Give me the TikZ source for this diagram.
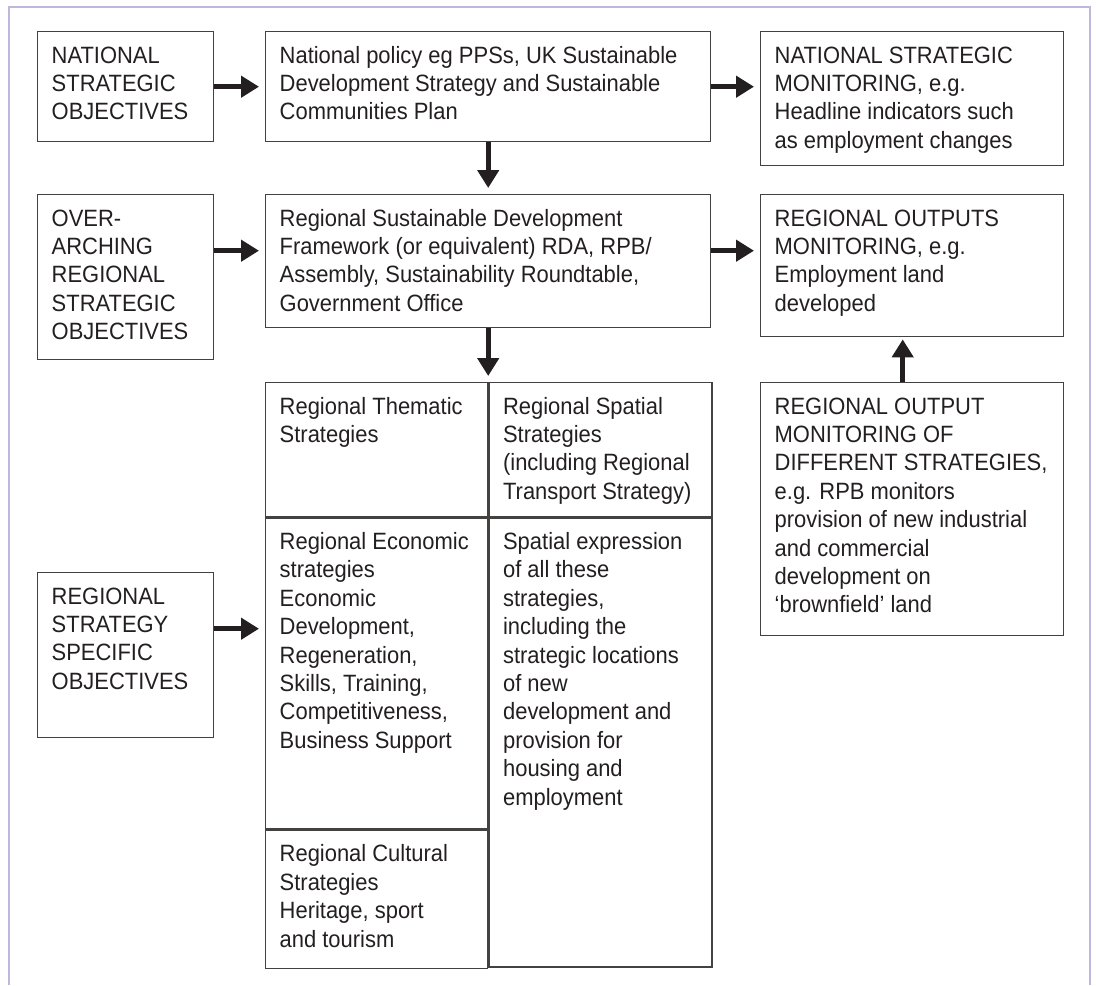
\documentclass[tikz,border=0pt]{standalone}
\usepackage{fontspec}
\setmainfont{Liberation Sans}[FakeStretch=0.93]
\usetikzlibrary{arrows.meta, positioning}
\definecolor{ink}{HTML}{231F20}
\definecolor{framelav}{RGB}{188,184,222}
\newcommand{\cellbox}[3]{\parbox[t][#2][t]{#1}{\begin{tabular}[t]{@{}l@{}}#3\end{tabular}}}
\tikzset{
  box/.style={draw=ink!85, line width=0.7pt, anchor=north west, inner xsep=7pt, inner ysep=5.75pt,
    text=ink, font=\fontsize{11.8}{14.2}\selectfont},
  arr/.style={draw=ink, line width=2.6pt, -{Triangle[length=9pt,width=10.5pt]}, shorten >=3pt}
}

\begin{document}
\begin{tikzpicture}[x=0.5pt,y=-0.5pt]
        \useasboundingbox (0,0) rectangle (1096,985);
        \draw[framelav, line width=0.8pt] (9,985) -- (9,7) -- (1090,7) -- (1090,985);

        % national level
        \node[box] (nso) at (37,31) {\cellbox{74pt}{43.5pt}{NATIONAL\\STRATEGIC\\OBJECTIVES}};
        \node[box] (np) at (265,31) {\cellbox{208.5pt}{43.5pt}{National policy eg PPSs, UK Sustainable\\Development Strategy and Sustainable\\Communities Plan}};
        \node[box] (nsm) at (760,31) {\cellbox{137.5pt}{55.5pt}{NATIONAL STRATEGIC\\MONITORING, e.g.\\Headline indicators such\\as employment changes}};

        % regional level
        \node[box] (oarso) at (37,194) {\cellbox{74pt}{71pt}{OVER-\\ARCHING\\REGIONAL\\STRATEGIC\\OBJECTIVES}};
        \node[box] (rsdf) at (265,194) {\cellbox{208.5pt}{55pt}{Regional Sustainable Development\\Framework (or equivalent) RDA, RPB/\\Assembly, Sustainability Roundtable,\\Government Office}};
        \node[box] (rom) at (760,194) {\cellbox{137.5pt}{59.5pt}{REGIONAL OUTPUTS\\MONITORING, e.g.\\Employment land\\developed}};

        \node[box] (rsso) at (37,572) {\cellbox{74pt}{71pt}{REGIONAL\\STRATEGY\\SPECIFIC\\OBJECTIVES}};
        \node[box] (romds) at (760,382) {\cellbox{137.5pt}{115pt}{REGIONAL OUTPUT\\MONITORING OF\\DIFFERENT STRATEGIES,\\e.g. RPB monitors\\provision of new industrial\\and commercial\\development on\\‘brownfield’ land}};

        % strategies table
        \node[box] (theme) at (265,382) {\cellbox{97pt}{55.5pt}{Regional Thematic\\Strategies}};
        \node[box] (spat) at (theme.north east) {\cellbox{97.5pt}{55.5pt}{Regional Spatial\\Strategies\\(including Regional\\Transport Strategy)}};
        \node[box] (econ) at (theme.south west) {\cellbox{97pt}{144pt}{Regional Economic\\strategies\\Economic\\Development,\\Regeneration,\\Skills, Training,\\Competitiveness,\\Business Support}};
        \node[box] (spexp) at (econ.north east) {\cellbox{97.5pt}{213pt}{Spatial expression\\of all these\\strategies,\\including the\\strategic locations\\of new\\development and\\provision for\\housing and\\employment}};
        \node[box] (cult) at (econ.south west) {\cellbox{97pt}{57.5pt}{Regional Cultural\\Strategies\\Heritage, sport\\and tourism}};

        % arrows
        \coordinate (a1) at ([yshift=13.25pt]oarso.east);
        \coordinate (a2) at ([yshift=5.25pt]rsdf.east);
        \coordinate (a3) at ([yshift=13.25pt]rsso.east);
        \coordinate (a4) at ([xshift=-4.75pt]romds.north);
        \draw[arr] (nso) -- (np);
        \draw[arr] (np.east) -- (np.east -| nsm.west);
        \draw[arr] (np) -- (rsdf);
        \draw[arr] (a1) -- (a1 -| rsdf.west);
        \draw[arr] (a2) -- (a2 -| rom.west);
        \draw[arr] (rsdf.south) -- (rsdf.south |- theme.north);
        \draw[arr] (a3) -- (a3 -| econ.west);
        \draw[arr, shorten >=1pt] (a4) -- (a4 |- rom.south);
\end{tikzpicture}
\end{document}
